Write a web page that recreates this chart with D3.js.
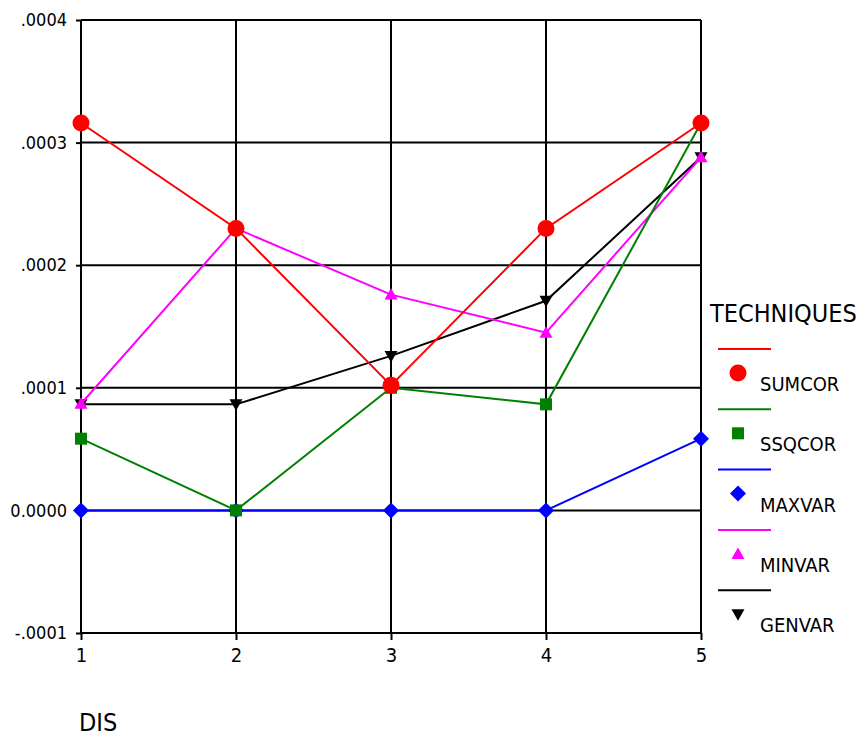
<!DOCTYPE html>
<html>
<head>
<meta charset="utf-8">
<script src="https://cdn.jsdelivr.net/npm/d3@7"></script>
<style>
  html, body { margin: 0; padding: 0; background: #fff; }
  svg { display: block; font-family: "DejaVu Sans Condensed", "DejaVu Sans", sans-serif; }
</style>
</head>
<body>
<svg id="chart" width="867" height="737"></svg>
<script>
// DIS levels on the x axis
const categories = [1, 2, 3, 4, 5];

// y ticks and their printed labels
const yTicks = [-0.0001, 0, 0.0001, 0.0002, 0.0003, 0.0004];
const yTickLabels = ["-.0001", "0.0000", ".0001", ".0002", ".0003", ".0004"];

// one value per DIS level for each technique
const sumcor = [0.000316, 0.000230, 0.000102, 0.000230, 0.000316];
const ssqcor = [0.0000585, 0.0, 0.0001, 0.0000865, 0.000316];
const maxvar = [0.0, 0.0, 0.0, 0.0, 0.0000585];
const minvar = [0.0000870, 0.000230, 0.000176, 0.000145, 0.000288];
const genvar = [0.0000865, 0.0000865, 0.000126, 0.000171, 0.000288];

const seriesNames = ["SUMCOR", "SSQCOR", "MAXVAR", "MINVAR", "GENVAR"];
const seriesValues = [sumcor, ssqcor, maxvar, minvar, genvar];
const seriesColors = ["#ff0000", "#008000", "#0000ff", "#ff00ff", "#000000"];
const seriesSymbols = ["circle", "square", "diamond", "triangleUp", "triangleDown"];

const svg = d3.select("#chart");

const x = d3.scaleLinear().domain([1, 5]).range([81, 701]);
const y = d3.scaleLinear().domain([-0.0001, 0.0004]).range([633, 20]);

// marker paths, sized in pixels
function markerPath(kind) {
  switch (kind) {
    case "circle": return d3.symbol(d3.symbolCircle, Math.PI * 8.5 * 8.5)();
    case "square": return "M-6,-6H6V6H-6Z";
    case "diamond": return "M0,-8L8,0L0,8L-8,0Z";
    case "triangleUp": return "M0,-6.5L6.5,5L-6.5,5Z";
    case "triangleDown": return "M0,6.5L6.5,-5L-6.5,-5Z";
  }
}

// grid
const grid = svg.append("g").attr("stroke", "#000").attr("stroke-width", 2);
grid.selectAll("line.h").data(yTicks).join("line")
  .attr("x1", x(1)).attr("x2", x(5))
  .attr("y1", d => y(d)).attr("y2", d => y(d));
grid.selectAll("line.v").data(categories).join("line")
  .attr("x1", d => x(d)).attr("x2", d => x(d))
  .attr("y1", y(0.0004)).attr("y2", y(-0.0001));

// y axis
const yAxis = d3.axisLeft(y).tickValues(yTicks)
  .tickFormat((d, i) => yTickLabels[i]).tickSize(5).tickPadding(9);
svg.append("g").attr("transform", `translate(${x(1)},0)`).call(yAxis)
  .call(g => g.select(".domain").remove())
  .call(g => g.selectAll("line").attr("stroke", "#000").attr("stroke-width", 2))
  .call(g => g.selectAll("text").attr("fill", "#000")
    .style("font-family", "'DejaVu Sans Condensed', 'DejaVu Sans', sans-serif")
    .style("font-size", "18px"));

// x axis
const xAxis = d3.axisBottom(x).tickValues(categories)
  .tickFormat(d3.format("d")).tickSize(7).tickPadding(8);
svg.append("g").attr("transform", `translate(0,${y(-0.0001)})`).call(xAxis)
  .call(g => g.select(".domain").remove())
  .call(g => g.selectAll("line").attr("stroke", "#000").attr("stroke-width", 2))
  .call(g => g.selectAll("text").attr("fill", "#000")
    .style("font-family", "'DejaVu Sans Condensed', 'DejaVu Sans', sans-serif")
    .style("font-size", "20px"));

// axis title
svg.append("text").attr("x", 79).attr("y", 731)
  .attr("font-size", 25).attr("fill", "#000").text("DIS");

// series, drawn last-to-first so SUMCOR ends on top
const line = d3.line().x((d, i) => x(categories[i])).y(d => y(d));
const order = d3.range(seriesNames.length).reverse();
order.forEach(s => {
  const g = svg.append("g");
  g.append("path").datum(seriesValues[s])
    .attr("d", line).attr("fill", "none")
    .attr("stroke", seriesColors[s]).attr("stroke-width", 2);
  g.selectAll("path.m").data(seriesValues[s]).join("path")
    .attr("class", "m")
    .attr("transform", (d, i) => `translate(${x(categories[i])},${y(d)})`)
    .attr("d", markerPath(seriesSymbols[s]))
    .attr("fill", seriesColors[s]);
});

// legend
const legend = svg.append("g");
legend.append("text").attr("x", 710).attr("y", 322)
  .attr("font-size", 25).attr("fill", "#000").text("TECHNIQUES");
seriesNames.forEach((name, i) => {
  const top = 349 + i * 60.3;
  legend.append("line")
    .attr("x1", 718).attr("x2", 771).attr("y1", top).attr("y2", top)
    .attr("stroke", seriesColors[i]).attr("stroke-width", 2);
  legend.append("path")
    .attr("transform", `translate(738,${top + 24})`)
    .attr("d", markerPath(seriesSymbols[i]))
    .attr("fill", seriesColors[i]);
  legend.append("text").attr("x", 760).attr("y", top + 42)
    .attr("font-size", 20).attr("fill", "#000").text(name);
});
</script>
</body>
</html>
